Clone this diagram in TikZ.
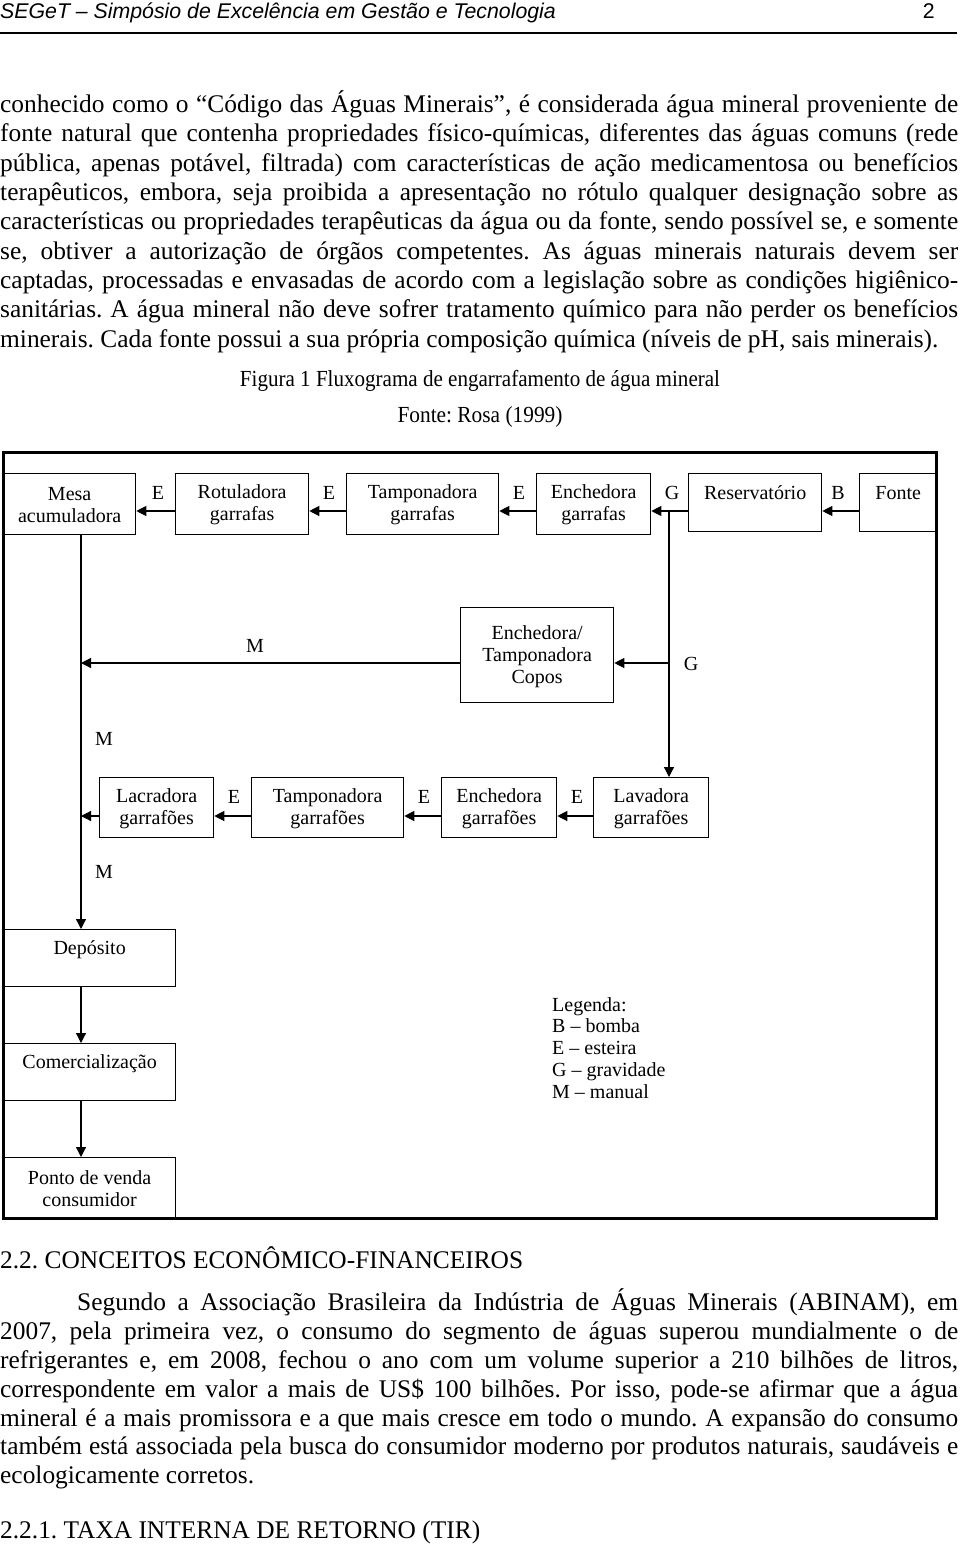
\documentclass[tikz,border=0pt]{standalone}
\usepackage{fontspec}
\setmainfont{Liberation Serif}
\setsansfont{Liberation Sans}
\usepackage{graphicx}
\usetikzlibrary{arrows.meta}
\frenchspacing
\newcommand\bodyfont{\fontsize{25.4}{29.3}\selectfont}
\newcommand\diagfont{\fontsize{20}{22}\selectfont}
\newcommand\strA{\rule{0pt}{16pt}}
\newcommand\strB{\rule[-1pt]{0pt}{1pt}}
\newcommand\jl[3]{\node[anchor=base west,inner sep=0pt] (#1) at (0,#2) {\bodyfont\hbox to 958pt{#3}};}
\newcommand\pl[4]{\node[anchor=base west,inner sep=0pt] (#1) at (#2,#3) {\bodyfont #4};}
\tikzset{
  box/.style={draw, line width=1.3pt, inner sep=0pt, align=center, font=\diagfont, anchor=north west},
  arr/.style={line width=1.2pt, -{Triangle[length=10pt,width=10pt]}},
  lab/.style={anchor=base, inner sep=0pt, font=\diagfont},
}
\begin{document}
\frenchspacing
\begin{tikzpicture}[x=1pt,y=-1pt]
\useasboundingbox (0,0) rectangle (960,1547);
% header
\node[anchor=base west,inner sep=0pt] (hdr) at (0,19) {\fontsize{21.3}{23}\selectfont\sffamily\itshape SEGeT -- Simpósio de Excelência em Gestão e Tecnologia};
\node[anchor=base east,inner sep=0pt] (pg) at (935,19) {\fontsize{21.3}{23}\selectfont\sffamily 2};
\draw[line width=1.8pt] (0,33) -- (957,33);
% paragraph
\jl{l1}{112}{conhecido como o “Código das Águas Minerais”, é considerada água mineral proveniente de}
\jl{l2}{141.5}{fonte natural que contenha propriedades físico-químicas, diferentes das águas comuns (rede}
\jl{l3}{171}{pública, apenas potável, filtrada) com características de ação medicamentosa ou benefícios}
\jl{l4}{200}{terapêuticos, embora, seja proibida a apresentação no rótulo qualquer designação sobre as}
\jl{l5}{229.5}{características ou propriedades terapêuticas da água ou da fonte, sendo possível se, e somente}
\jl{l6}{259}{se, obtiver a autorização de órgãos competentes. As águas minerais naturais devem ser}
\jl{l7}{288}{captadas, processadas e envasadas de acordo com a legislação sobre as condições higiênico-}
\jl{l8}{317.5}{sanitárias. A água mineral não deve sofrer tratamento químico para não perder os benefícios}
\pl{l9}{0}{347}{minerais. Cada fonte possui a sua própria composição química (níveis de pH, sais minerais).}
% caption
\node[anchor=base,inner sep=0pt] (cap) at (480,386) {\fontsize{23}{26}\selectfont\resizebox{480pt}{\height}{Figura 1 Fluxograma de engarrafamento de água mineral}};
\node[anchor=base,inner sep=0pt] (src) at (480,422) {\fontsize{23}{26}\selectfont\resizebox{165pt}{\height}{Fonte: Rosa (1999)}};
% frame
\draw[line width=3pt] (3,452.5) rectangle (936,1218);
% boxes
\node[box, minimum width=132pt, minimum height=61pt] (mesa) at (3,473) {\strA Mesa\\acumuladora\strB};
\node[box, minimum width=133pt, minimum height=61pt] (rot) at (175,473) {\strA Rotuladora\\garrafas\strB};
\node[box, minimum width=152pt, minimum height=61pt] (tampg) at (346,473) {\strA Tamponadora\\garrafas\strB};
\node[box, minimum width=114pt, minimum height=61pt] (enchg) at (536,473) {\strA Enchedora\\garrafas\strB};
\node[box, minimum width=133pt, minimum height=58pt] (res) at (688,473) {\strA Reservatório\\\strB};
\node[box, minimum width=77pt, minimum height=58pt] (fonte) at (859,473) {\strA Fonte\\\strB};
\node[box, minimum width=153pt, minimum height=95pt] (copos) at (460,607) {\strA Enchedora/\\Tamponadora\\Copos\strB};
\node[box, minimum width=114pt, minimum height=60pt] (lacr) at (99,777) {\strA Lacradora\\garrafões\strB};
\node[box, minimum width=152pt, minimum height=60pt] (tampgf) at (251,777) {\strA Tamponadora\\garrafões\strB};
\node[box, minimum width=115pt, minimum height=60pt] (enchgf) at (441,777) {\strA Enchedora\\garrafões\strB};
\node[box, minimum width=115pt, minimum height=60pt] (lav) at (593,777) {\strA Lavadora\\garrafões\strB};
\node[box, minimum width=172pt, minimum height=57pt] (dep) at (3,929) {\strA Depósito\\\strB};
\node[box, minimum width=172pt, minimum height=57pt] (com) at (3,1043) {\strA Comercialização\\\strB};
\node[box, minimum width=172pt, minimum height=61pt] (ponto) at (3,1157) {\strA Ponto de venda\\consumidor\strB};
% guide coordinates
\coordinate (rowA) at (0,511);
\coordinate (rowB) at (0,663);
\coordinate (rowC) at (0,816);
\coordinate (colL) at (81,0);
\coordinate (colG) at (669,0);
% top row arrows
\draw[arr] (fonte.west |- rowA) -- (res.east |- rowA);
\draw[arr] (res.west |- rowA) -- (enchg.east |- rowA);
\draw[arr] (enchg.west |- rowA) -- (tampg.east |- rowA);
\draw[arr] (tampg.west |- rowA) -- (rot.east |- rowA);
\draw[arr] (rot.west |- rowA) -- (mesa.east |- rowA);
% gravity branch
\draw[arr] (colG |- rowA) -- (colG |- lav.north);
\draw[arr] (colG |- rowB) -- (copos.east |- rowB);
% manual to left column
\draw[arr] (copos.west |- rowB) -- (colL |- rowB);
\draw[arr] (colL |- mesa.south) -- (colL |- dep.north);
% garrafoes row
\draw[arr] (lav.west |- rowC) -- (enchgf.east |- rowC);
\draw[arr] (enchgf.west |- rowC) -- (tampgf.east |- rowC);
\draw[arr] (tampgf.west |- rowC) -- (lacr.east |- rowC);
\draw[arr] (lacr.west |- rowC) -- (colL |- rowC);
% lower column
\draw[arr] (colL |- dep.south) -- (colL |- com.north);
\draw[arr] (colL |- com.south) -- (colL |- ponto.north);
% connector labels
\node[lab] (e1) at (158,499) {E};
\node[lab] (e2) at (329,499) {E};
\node[lab] (e3) at (519,499) {E};
\node[lab] (g1) at (672,499) {G};
\node[lab] (b1) at (838,499) {B};
\node[lab] (m1) at (255,652) {M};
\node[lab] (g2) at (691,670) {G};
\node[lab] (m2) at (104,745) {M};
\node[lab] (m3) at (104,878) {M};
\node[lab] (e4) at (234,803) {E};
\node[lab] (e5) at (424,803) {E};
\node[lab] (e6) at (577,803) {E};
% legend
\node[anchor=base west, inner sep=0pt, align=left, font=\fontsize{20}{21.7}\selectfont] (leg) at (552,1098) {Legenda:\\B -- bomba\\E -- esteira\\G -- gravidade\\M -- manual};
% section text
\pl{s1}{0}{1268}{2.2. CONCEITOS ECONÔMICO-FINANCEIROS}
\node[anchor=base west,inner sep=0pt] (p1) at (77,1310) {\bodyfont\hbox to 881pt{Segundo a Associação Brasileira da Indústria de Águas Minerais (ABINAM), em}};
\jl{p2}{1339}{2007, pela primeira vez, o consumo do segmento de águas superou mundialmente o de}
\jl{p3}{1368}{refrigerantes e, em 2008, fechou o ano com um volume superior a 210 bilhões de litros,}
\jl{p4}{1397}{correspondente em valor a mais de US\$ 100 bilhões. Por isso, pode-se afirmar que a água}
\jl{p5}{1426}{mineral é a mais promissora e a que mais cresce em todo o mundo. A expansão do consumo}
\jl{p6}{1454}{também está associada pela busca do consumidor moderno por produtos naturais, saudáveis e}
\pl{p7}{0}{1483}{ecologicamente corretos.}
\pl{s2}{0}{1538}{2.2.1. TAXA INTERNA DE RETORNO (TIR)}
\end{tikzpicture}
\end{document}
